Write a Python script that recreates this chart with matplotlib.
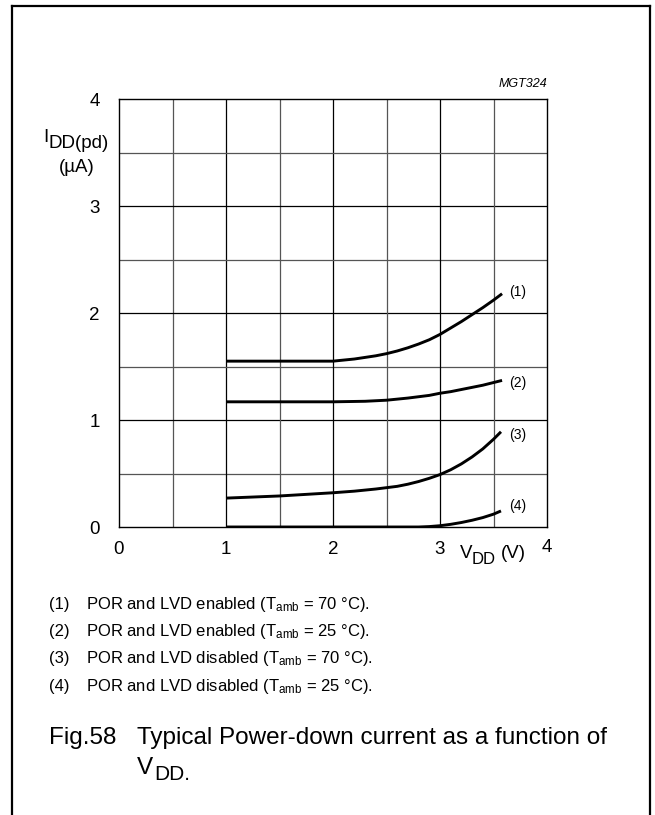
import matplotlib
matplotlib.use('Agg')
import matplotlib.pyplot as plt
from matplotlib.lines import Line2D

plt.rcParams['font.family'] = ['Liberation Sans', 'DejaVu Sans']
plt.rcParams['mathtext.fontset'] = 'custom'
plt.rcParams['mathtext.rm'] = 'Liberation Sans'
plt.rcParams['mathtext.it'] = 'Liberation Sans:italic'

# curve data (V_DD in V, I_DD(pd) in uA)
vdd1 = [1.0, 1.5, 2.0, 2.1, 2.2, 2.3, 2.4, 2.5, 2.6, 2.7, 2.8, 2.9, 3.0, 3.1, 3.2, 3.3, 3.4, 3.5, 3.58]
idd1 = [1.55, 1.55, 1.55, 1.56, 1.57, 1.585, 1.60, 1.62, 1.645, 1.675, 1.71, 1.75, 1.80, 1.86, 1.92, 1.985, 2.05, 2.12, 2.18]
vdd2 = [1.0, 1.5, 2.0, 2.3, 2.5, 2.7, 2.9, 3.0, 3.1, 3.2, 3.3, 3.4, 3.5, 3.58]
idd2 = [1.17, 1.17, 1.17, 1.175, 1.185, 1.205, 1.23, 1.25, 1.265, 1.285, 1.305, 1.325, 1.35, 1.37]
vdd3 = [1.0, 1.5, 2.0, 2.2, 2.4, 2.6, 2.7, 2.8, 2.9, 3.0, 3.1, 3.2, 3.3, 3.4, 3.5, 3.57]
idd3 = [0.27, 0.29, 0.32, 0.335, 0.355, 0.38, 0.40, 0.425, 0.455, 0.49, 0.535, 0.59, 0.655, 0.73, 0.82, 0.89]
vdd4 = [1.0, 2.0, 2.8, 2.9, 3.0, 3.1, 3.2, 3.3, 3.4, 3.5, 3.57]
idd4 = [0.0, 0.0, 0.0, 0.004, 0.012, 0.025, 0.042, 0.063, 0.088, 0.12, 0.15]

curve_tags = ['(1)', '(2)', '(3)', '(4)']
tag_y = [2.2, 1.35, 0.86, 0.2]
notes = [
    r'POR and LVD enabled (T$_{\mathregular{amb}}$ = 70 °C).',
    r'POR and LVD enabled (T$_{\mathregular{amb}}$ = 25 °C).',
    r'POR and LVD disabled (T$_{\mathregular{amb}}$ = 70 °C).',
    r'POR and LVD disabled (T$_{\mathregular{amb}}$ = 25 °C).',
]
x_ticks = [0, 1, 2, 3, 4]
y_ticks = [0, 1, 2, 3, 4]

W, H = 655, 815
fig = plt.figure(figsize=(W / 100, H / 100), dpi=100)
ax = fig.add_axes([119 / W, 1 - 527 / H, 428 / W, 428 / H])

ax.set_xlim(0, 4)
ax.set_ylim(0, 4)
for v in [0.5 * i for i in range(1, 8)]:
    c = 'black' if v == int(v) else '#555555'
    ax.axvline(v, color=c, lw=0.9, zorder=1)
    ax.axhline(v, color=c, lw=0.9, zorder=1)
for s in ax.spines.values():
    s.set_linewidth(1.0)
ax.set_xticks(x_ticks)
ax.set_yticks(y_ticks)
ax.tick_params(length=0, labelsize=13.5, pad=10)
ax.tick_params(axis='y', pad=14)
ax.set_xticklabels([str(t) if t != 4 else '' for t in x_ticks])
ax.text(4.0, -0.19, '4', ha='center', va='center', fontsize=13.5)

for x, y in [(vdd1, idd1), (vdd2, idd2), (vdd3, idd3), (vdd4, idd4)]:
    ax.plot(x, y, color='black', lw=2.1, zorder=3, solid_capstyle='butt',
            solid_joinstyle='round')
for tag, ty in zip(curve_tags, tag_y):
    ax.text(3.65, ty, tag, fontsize=10, ha='left', va='center')

ax.text(4.0, 4.08, 'MGT324', fontsize=9, style='italic', ha='right', va='bottom')

# axis labels
fig.text(43 / W, 1 - 137 / H, 'I', fontsize=13.5, ha='left', va='center')
fig.text(49 / W, 1 - 144 / H, 'DD(pd)', fontsize=13.5, ha='left', va='center')
fig.text(77 / W, 1 - 168 / H, '(µA)', fontsize=13.5, ha='center', va='center')
fig.text(460 / W, 1 - 553 / H, 'V', fontsize=13.5, ha='left', va='center')
fig.text(472 / W, 1 - 560 / H, 'DD', fontsize=12, ha='left', va='center')
fig.text(501 / W, 1 - 553 / H, '(V)', fontsize=13.5, ha='left', va='center')

# notes under the chart
for i, (tag, note) in enumerate(zip(curve_tags, notes)):
    y = 1 - (604 + 27.5 * i) / H
    fig.text(49 / W, y, tag, fontsize=12, ha='left', va='center')
    fig.text(86 / W, y, note, fontsize=12, ha='left', va='center')

fig.text(49 / W, 1 - 738 / H, 'Fig.58', fontsize=17.5, ha='left', va='center')
fig.text(137 / W, 1 - 738 / H, 'Typical Power-down current as a function of',
         fontsize=17.5, ha='left', va='center')
fig.text(137 / W, 1 - 768 / H, 'V', fontsize=17.5, ha='left', va='center')
fig.text(154 / W, 1 - 775 / H, 'DD.', fontsize=15, ha='left', va='center')

# outer frame
fx0, fx1, fy = 12 / W, 650 / W, 1 - 6 / H
for xs, ys in [([fx0, fx0], [0, fy]), ([fx0, fx1], [fy, fy]), ([fx1, fx1], [fy, 0])]:
    fig.add_artist(Line2D(xs, ys, transform=fig.transFigure, color='black', lw=1.6))

fig.savefig('out.png', dpi=100)
